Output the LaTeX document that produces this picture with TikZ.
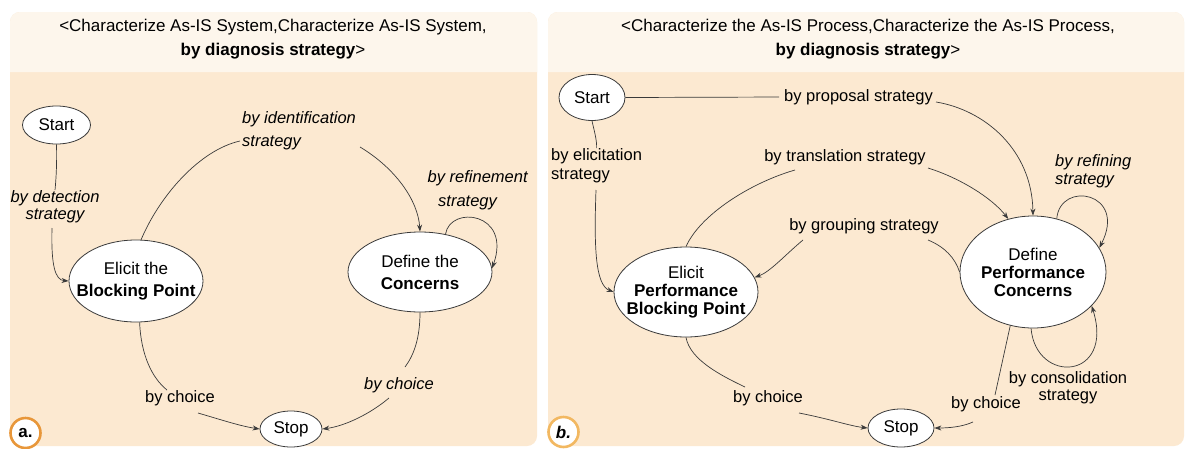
\documentclass[tikz,border=0pt]{standalone}
\usepackage{fontspec}
\setmainfont{Liberation Sans}
\usetikzlibrary{arrows.meta,shapes.geometric}
\definecolor{bodyc}{HTML}{FCE9D1}
\definecolor{headc}{HTML}{FDF6EC}
\definecolor{linec}{HTML}{3A3A3A}
\definecolor{orA}{HTML}{E8973A}
\definecolor{orB}{HTML}{F2B861}
\begin{document}
\begin{tikzpicture}[x=1pt,y=-1pt,
  conn/.style={draw=linec, line width=0.7pt},
  arr/.style={conn, -{Stealth[length=7pt,width=5pt]}},
  state/.style={ellipse, draw=linec, fill=white, line width=0.8pt, inner sep=0pt},
  ntext/.style={font=\fontsize{17}{22}\selectfont, align=center, inner sep=0pt},
  ntextb/.style={font=\fontsize{17}{18}\selectfont, align=center, inner sep=0pt},
  lab/.style={inner sep=0pt, font=\fontsize{16.5}{17}\selectfont},
  ttl/.style={font=\fontsize{17}{24}\selectfont, align=center, inner sep=0pt},
  tag/.style={circle, fill=white, line width=2.6pt, minimum size=30pt, inner sep=0pt}
]
\useasboundingbox (0,0) rectangle (1187,448);
\fill[white] (0,0) rectangle (1187,448);
% panels
\fill[bodyc, rounded corners=10pt] (10,12) rectangle (537,446);
\fill[headc] (10,72) [rounded corners=10pt] -- (10,12) -- (537,12) [sharp corners] -- (537,72) -- cycle;
\fill[bodyc, rounded corners=10pt] (548,12) rectangle (1184,446);
\fill[headc] (548,72) [rounded corners=10pt] -- (548,12) -- (1184,12) [sharp corners] -- (1184,72) -- cycle;

% titles
\node[ttl] (tta) at (273,39) {<Characterize As-IS System,Characterize As-IS System,\\\textbf{by diagnosis strategy}>};
\node[ttl] (ttb) at (868,39) {<Characterize the As-IS Process,Characterize the As-IS Process,\\\textbf{by diagnosis strategy}>};

% ===== panel a =====
\node[state, minimum width=68pt, minimum height=38pt, label={[ntext]center:Start}] (sa) at (56.5,125) {};
\node[state, minimum width=134pt, minimum height=82pt, label={[ntext]center:{Elicit the\\\textbf{Blocking Point}}}] (ea) at (136,281) {};
\node[state, minimum width=144pt, minimum height=80pt, label={[ntext]center:{Define the\\\textbf{Concerns}}}] (da) at (420,272) {};
\node[state, minimum width=62pt, minimum height=36pt, label={[ntext]center:Stop}] (pa) at (291,429) {};

\node[lab, font=\fontsize{16.5}{17}\selectfont\itshape, align=center] (la1) at (55,206.5) {by detection\\strategy};
\node[lab, font=\fontsize{16.5}{23}\selectfont\itshape, align=left, anchor=west] (la2) at (242,130.5) {by identification\\strategy};
\node[lab, font=\fontsize{16.5}{24}\selectfont\itshape, align=left, anchor=west] (la3) at (427.5,190) {by refinement\\\hspace*{10.5pt}strategy};
\node[lab] (la4) at (180,398) {by choice};
\node[lab, font=\fontsize{16.5}{17}\selectfont\itshape] (la5) at (399,385) {by choice};

\coordinate (ca1) at (52,228);
\coordinate (ca2) at (240,141);
\coordinate (ca3) at (360,147);
\coordinate (ca4) at (167,390);
\coordinate (ca5) at (198,413);
\coordinate (ca6) at (405,367);
\coordinate (ca7) at (389,398);

\draw[conn] (sa.south) .. controls (57,165) and (56,180) .. (la1.north);
\draw[arr] (ca1) .. controls (51,265) and (55,280) .. (ea.west);
\draw[conn] (ea.83) .. controls (160,195) and (200,150) .. (ca2);
\draw[arr] (ca3) .. controls (395,168) and (418,200) .. (da.north);
\draw[arr] (da.56) .. controls (450,205) and (512,212) .. (da.3);
\draw[conn] (ea.-85) .. controls (141,355) and (152,378) .. (ca4);
\draw[arr] (ca5) .. controls (222,420) and (240,426) .. (pa.west);
\draw[conn] (da.south) .. controls (420,338) and (414,355) .. (ca6);
\draw[arr] (ca7) .. controls (370,414) and (345,426) .. (pa.east);

% ===== panel b =====
\node[state, minimum width=66pt, minimum height=46pt, label={[ntext]center:Start}] (sb) at (592,97.5) {};
\node[state, minimum width=144pt, minimum height=90pt, label={[ntextb]center:{Elicit\\\textbf{Performance}\\\textbf{Blocking Point}}}] (eb) at (686,292) {};
\node[state, minimum width=146pt, minimum height=112pt, label={[ntextb]center:{Define\\\textbf{Performance}\\\textbf{Concerns}}}] (db) at (1033,272) {};
\node[state, minimum width=66pt, minimum height=38pt, label={[ntext]center:Stop}] (pb) at (901,428) {};

\node[lab, anchor=west] (lb1) at (784,97) {by proposal strategy};
\node[lab, font=\fontsize{16.5}{19}\selectfont, align=left, anchor=west] (lb2) at (551,165.5) {by elicitation\\strategy};
\node[lab] (lb3) at (845,157) {by translation strategy};
\node[lab, font=\fontsize{16.5}{18}\selectfont\itshape, align=left, anchor=west] (lb4) at (1055,171) {by refining\\strategy};
\node[lab] (lb5) at (864,226) {by grouping strategy};
\node[lab, align=center] (lb6) at (1068,387.5) {by consolidation\\strategy};
\node[lab] (lb7) at (768,398) {by choice};
\node[lab] (lb8) at (986,404) {by choice};

\coordinate (cb1) at (936,102);
\coordinate (cb2) at (596,190);
\coordinate (cb3) at (795,170);
\coordinate (cb4) at (928,168);
\coordinate (cb5) at (928,240);
\coordinate (cb6) at (803,240);
\coordinate (cb7) at (745,387);
\coordinate (cb8) at (799,413);
\coordinate (cb9) at (995,395);
\coordinate (cb10) at (973,422);

\draw[conn, shorten >=5pt] (sb.east) -- (lb1.west);
\draw[arr] (cb1) .. controls (985,110) and (1032,150) .. (db.north);
\draw[conn] (sb.south) .. controls (594,130) and (597,140) .. (lb2.north);
\draw[arr] (cb2) .. controls (594,245) and (595,285) .. (eb.west);
\draw[conn] (eb.north) .. controls (700,215) and (750,183) .. (cb3);
\draw[arr] (cb4) .. controls (960,178) and (992,198) .. (db.115);
\draw[conn] (db.west) .. controls (955,258) and (945,247) .. (cb5);
\draw[arr] (cb6) .. controls (785,255) and (770,272) .. (eb.12);
\draw[arr] (db.66) .. controls (1060,180) and (1128,192) .. (db.20);
\draw[arr] (db.-92) .. controls (1036,385) and (1115,380) .. (db.-30);
\draw[conn] (eb.south) .. controls (690,360) and (722,376) .. (cb7);
\draw[arr] (cb8) .. controls (830,419) and (850,426) .. (pb.west);
\draw[conn] (db.-113) -- (cb9);
\draw[arr] (cb10) .. controls (962,427) and (948,428) .. (pb.east);

% tags
\node[tag, draw=orA, font=\bfseries\fontsize{17}{17}\selectfont] (ta) at (25.5,433) {a.};
\node[tag, draw=orB, font=\bfseries\itshape\fontsize{17}{17}\selectfont] (tb) at (563.5,432) {b.};
\end{tikzpicture}
\end{document}
